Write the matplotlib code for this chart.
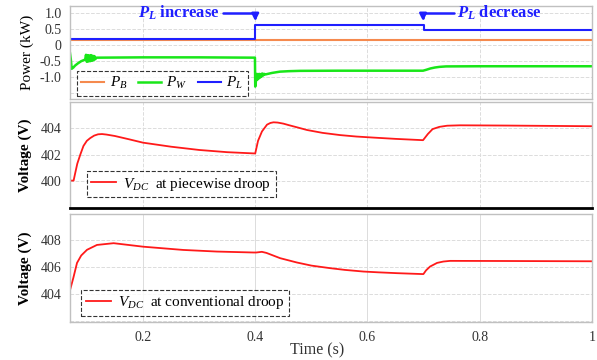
import matplotlib
matplotlib.use('Agg')
import matplotlib.pyplot as plt

plt.rcParams['font.family'] = ['Liberation Serif', 'DejaVu Serif']
plt.rcParams['mathtext.fontset'] = 'custom'
plt.rcParams['mathtext.rm'] = 'Liberation Serif'
plt.rcParams['mathtext.it'] = 'Liberation Serif:italic'
plt.rcParams['mathtext.bf'] = 'Liberation Serif:bold:italic'

# power traces (kW)
t_pb = [0.07, 1.0]
p_b = [0.17, 0.17]

t_pl = [0.07, 0.4, 0.4, 0.7, 0.7, 1.0]
p_l = [0.19, 0.19, 0.64, 0.64, 0.49, 0.49]

t_pw = [0.070, 0.0715, 0.073, 0.076, 0.079, 0.084, 0.090, 0.097,
        0.0985, 0.100, 0.1015, 0.103, 0.1045, 0.106, 0.1075, 0.109, 0.1105, 0.112, 0.1135, 0.115,
        0.117, 0.20, 0.30, 0.3995, 0.400, 0.4015,
        0.403, 0.404, 0.405, 0.406, 0.407, 0.408, 0.409, 0.410, 0.411, 0.412, 0.413, 0.414, 0.416, 0.418,
        0.420, 0.430, 0.444, 0.46, 0.48, 0.55, 0.62, 0.699,
        0.705, 0.712, 0.72, 0.728, 0.74, 0.80, 0.90, 1.0]
p_w = [-0.25, -0.45, -0.74, -0.70, -0.64, -0.57, -0.50, -0.45,
       -0.30, -0.52, -0.31, -0.51, -0.32, -0.50, -0.31, -0.49, -0.33, -0.47, -0.34, -0.44,
       -0.39, -0.38, -0.38, -0.39, -1.30, -1.10,
       -0.90, -1.08, -0.92, -1.05, -0.90, -1.02, -0.91, -1.00, -0.90, -0.97, -0.89, -0.95, -0.90, -0.92,
       -0.91, -0.87, -0.83, -0.815, -0.805, -0.80, -0.80, -0.80,
       -0.77, -0.73, -0.70, -0.68, -0.665, -0.66, -0.66, -0.66]

# DC bus voltage, piecewise droop (V)
t_v1 = [0.07, 0.0764, 0.0794, 0.083, 0.0884, 0.094, 0.100, 0.106, 0.113, 0.120, 0.127,
        0.135, 0.15, 0.175, 0.20, 0.25, 0.30, 0.35, 0.40,
        0.405, 0.412, 0.421, 0.427, 0.4326, 0.44, 0.45, 0.46, 0.475, 0.4923, 0.52, 0.5513,
        0.58, 0.61, 0.65, 0.699,
        0.7075, 0.716, 0.728, 0.742, 0.765, 0.85, 1.0]
v1 = [400.0, 400.0, 400.6, 401.3, 402.0, 402.66, 403.05, 403.26, 403.45, 403.55, 403.57,
      403.53, 403.42, 403.17, 402.91, 402.6, 402.35, 402.18, 402.08,
      403.05, 403.77, 404.29, 404.42, 404.47, 404.45, 404.37, 404.25, 404.08, 403.88, 403.66, 403.49,
      403.38, 403.30, 403.2, 403.10,
      403.57, 403.95, 404.12, 404.21, 404.24, 404.22, 404.17]

# DC bus voltage, conventional droop (V)
t_v2 = [0.0706, 0.076, 0.0825, 0.090, 0.1003, 0.118, 0.1477, 0.2005, 0.2717, 0.3317, 0.397,
        0.4017, 0.4119, 0.42, 0.43, 0.4444, 0.4742, 0.50, 0.5335, 0.56, 0.5927, 0.62, 0.6522, 0.6996,
        0.7044, 0.7115, 0.724, 0.7351, 0.7471, 0.85, 1.0]
v2 = [404.37, 405.2, 406.3, 406.85, 407.27, 407.63, 407.76, 407.5, 407.26, 407.14, 407.07,
      407.07, 407.12, 407.04, 406.88, 406.65, 406.33, 406.1, 405.91, 405.78, 405.66, 405.6, 405.54, 405.47,
      405.75, 406.03, 406.3, 406.4, 406.45, 406.44, 406.42]

xticks = [0.2, 0.4, 0.6, 0.8, 1.0]
xtick_labels = ['0.2', '0.4', '0.6', '0.8', '1']


def dashed_frame(leg):
    fr = leg.get_frame()
    fr.set_edgecolor('black')
    fr.set_linestyle('--')
    fr.set_linewidth(0.8)


fig = plt.figure(figsize=(5.97, 3.6), dpi=100)
L, W = 70 / 597, 522 / 597
ax1 = fig.add_axes([L, 1 - 99.3 / 360, W, 93.3 / 360])
ax2 = fig.add_axes([L, 1 - 208 / 360, W, 106.3 / 360])
ax3 = fig.add_axes([L, 1 - 322.3 / 360, W, 108 / 360])

for ax in (ax1, ax2, ax3):
    ax.set_xlim(0.07, 1.0)
    ax.set_xticks(xticks)
    ax.tick_params(length=0, labelsize=10, labelcolor='#333333', pad=6)
    ax.grid(True, color='#dcdcdc', linestyle='--', linewidth=0.7)
    for s in ax.spines.values():
        s.set_color('#c0c0c0')
        s.set_linewidth(1)
    ax.set_axisbelow(True)

ax1.set_xticklabels([])
ax2.set_xticklabels([])
ax3.set_xticklabels(xtick_labels)
ax3.grid(True, axis='x', color='#dcdcdc', linestyle='-', linewidth=0.7)

# top: power
ax1.plot(t_pb, p_b, color='#f58a4e', lw=1.5, label='$P_B$')
ax1.plot(t_pw, p_w, color='#19e619', lw=1.8, label='$P_W$')
ax1.plot(t_pl, p_l, color='#1f1fff', lw=1.5, label='$P_L$')
ax1.set_ylim(-1.70, 1.236)
ax1.set_yticks([-1.5, -1.0, -0.5, 0, 0.5, 1.0])
ax1.set_yticklabels(['', '-1.0', '-0.5', '0', '0.5', '1.0'])
ax1.set_ylabel('Power (kW)', fontsize=11, labelpad=4)
leg = ax1.legend(loc='lower left', bbox_to_anchor=(0.013, 0.035), borderaxespad=0, ncol=3,
                 fontsize=11, frameon=True, fancybox=False, handlelength=1.5,
                 columnspacing=0.7, handletextpad=0.35, borderpad=0.3)
dashed_frame(leg)

ax1.annotate('', xy=(0.4, 0.76), xytext=(0.342, 1.016),
             arrowprops=dict(arrowstyle='-|>', color='#1f1fff', lw=1.8,
                             connectionstyle='angle,angleA=0,angleB=90,rad=0',
                             shrinkA=0, shrinkB=0, mutation_scale=10))
ax1.text(0.336, 1.016, r'$\mathbf{P_L}$ increase', color='#1f1fff', fontsize=12,
         fontweight='bold', ha='right', va='center')
ax1.annotate('', xy=(0.699, 0.76), xytext=(0.755, 1.016),
             arrowprops=dict(arrowstyle='-|>', color='#1f1fff', lw=1.8,
                             connectionstyle='angle,angleA=0,angleB=90,rad=0',
                             shrinkA=0, shrinkB=0, mutation_scale=10))
ax1.text(0.760, 1.016, r'$\mathbf{P_L}$ decrease', color='#1f1fff', fontsize=12,
         fontweight='bold', ha='left', va='center')

# middle: piecewise droop
ax2.plot(t_v1, v1, color='#ff1a1a', lw=1.3, label='$V_{DC}$  at piecewise droop')
ax2.set_ylim(397.9, 406.05)
ax2.set_yticks([400, 402, 404])
ax2.set_ylabel('Voltage (V)', fontsize=11, fontweight='bold', labelpad=6)
ax2.spines['bottom'].set_color('black')
ax2.spines['bottom'].set_linewidth(2)
leg2 = ax2.legend(loc='lower left', bbox_to_anchor=(0.032, 0.10), borderaxespad=0,
                  fontsize=11, frameon=True, fancybox=False, handlelength=1.6,
                  handletextpad=0.5, borderpad=0.3)
dashed_frame(leg2)

# bottom: conventional droop
ax3.plot(t_v2, v2, color='#ff1a1a', lw=1.3, label='$V_{DC}$  at conventional droop')
ax3.set_ylim(401.9, 409.9)
ax3.set_yticks([402, 404, 406, 408])
ax3.set_yticklabels(['', '404', '406', '408'])
ax3.set_ylabel('Voltage (V)', fontsize=11, fontweight='bold', labelpad=6)
leg3 = ax3.legend(loc='lower left', bbox_to_anchor=(0.022, 0.061), borderaxespad=0,
                  fontsize=11, frameon=True, fancybox=False, handlelength=1.6,
                  handletextpad=0.5, borderpad=0.3)
dashed_frame(leg3)

fig.text(317 / 597, 1 - 350 / 360, 'Time (s)', ha='center', va='center',
         fontsize=11.5, color='#333333')

fig.savefig('out.png', dpi=100)
